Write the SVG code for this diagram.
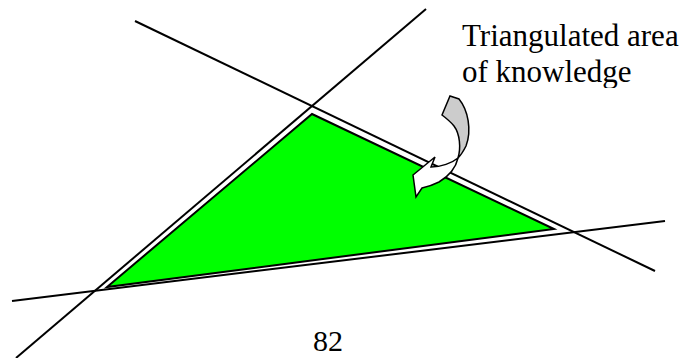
<svg xmlns="http://www.w3.org/2000/svg" width="689" height="358" viewBox="0 0 689 358">
<style>
.ln{stroke:#000;stroke-width:2;fill:none;stroke-linecap:butt}
.ar{stroke:#000;stroke-width:1.5;stroke-linejoin:miter}
.t{font-family:"Liberation Serif","Times New Roman","DejaVu Serif",serif;fill:#000}
</style>
<defs>
<clipPath id="clipT"><rect x="0" y="0" width="689" height="88"/></clipPath>
</defs>
<g id="connectors">
<line class="ln" x1="135" y1="21" x2="655" y2="271"/>
<line class="ln" x1="426" y1="9" x2="16" y2="358"/>
<line class="ln" x1="12" y1="301" x2="665" y2="221"/>
</g>
<g id="triangle">
<polygon points="312,114 554,229 107,287" fill="#00ff00" stroke="#000" stroke-width="2" stroke-linejoin="miter"/>
</g>
<g id="arrow">
<path class="ar" fill="#cccccc" d="M450,96 L459,99 C468,110 472,130 466,146 C463,152 461,155 458,158 C461,148 460,134 454,126 C450,121 446,118 442,115 Z"/>
<path class="ar" fill="#ffffff" d="M458,158 C456,167 449,176 439,182 C433,185 427,187 422,188 L416,197 L413,175 L435,157 L431,167 C441,167 452,163 458,158 Z"/>
</g>
<g id="label" clip-path="url(#clipT)">
<text class="t" font-size="31" x="462" y="46">Triangulated area</text>
<text class="t" font-size="31" x="462" y="82">of knowledge</text>
</g>
<g id="page">
<text class="t" font-size="30" x="313" y="351">82</text>
</g>
</svg>
